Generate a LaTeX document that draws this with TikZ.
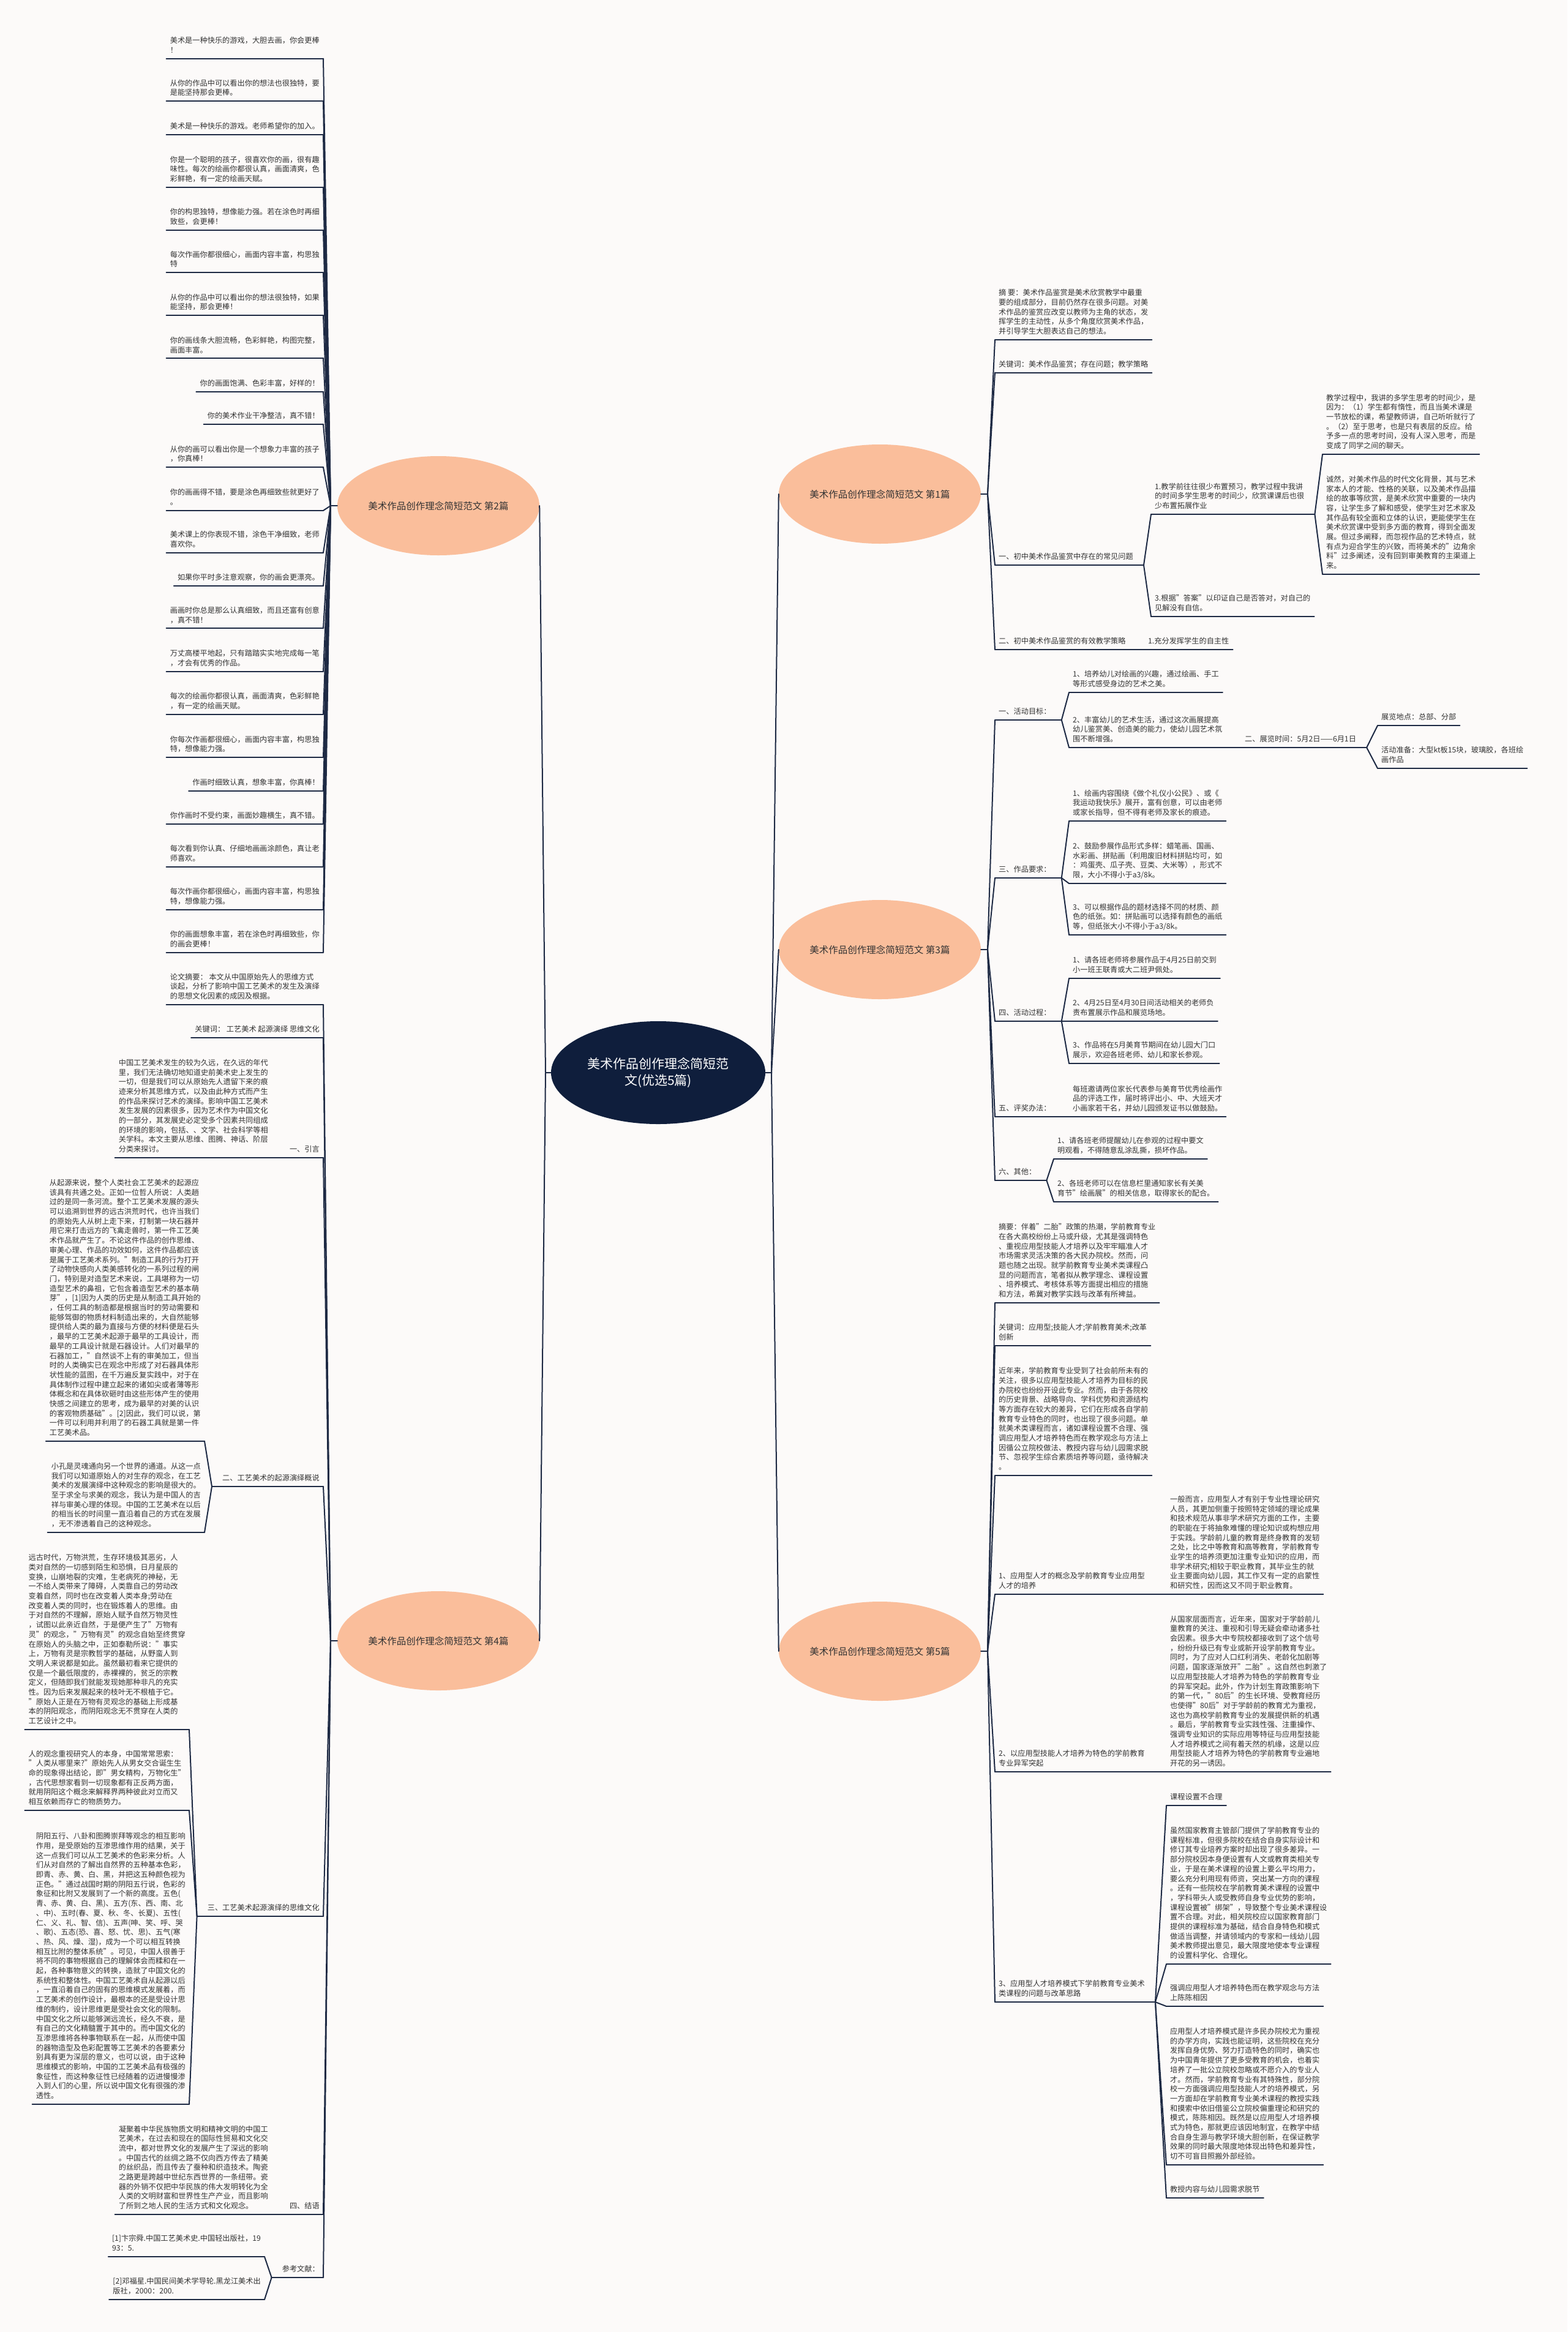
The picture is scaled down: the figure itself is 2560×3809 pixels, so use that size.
\documentclass[tikz,border=0pt]{standalone}
\usepackage{fontspec}
\setmainfont{Noto Sans CJK SC}
\usetikzlibrary{shapes.geometric}
\definecolor{bgc}{HTML}{FCFAF9}
\definecolor{lnc}{HTML}{1E2A44}
\definecolor{navy}{HTML}{0F1E3C}
\definecolor{orn}{HTML}{FABE9B}
\definecolor{txt}{HTML}{333333}
\tikzset{
  ln/.style={draw=lnc, line width=2pt, line cap=round},
  leafbase/.style={inner xsep=6pt, inner ysep=8pt, text depth=1.2pt, align=left, font=\fontsize{12.2}{15.7}\selectfont, text=txt},
  leafR/.style={leafbase, anchor=south west},
  leafL/.style={leafbase, anchor=south east},
  brn/.style={ellipse, fill=orn, minimum width=330pt, minimum height=162pt, inner sep=0pt, font=\fontsize{15.5}{18}\selectfont, text=txt},
  rootnode/.style={ellipse, fill=navy, minimum width=350pt, minimum height=168pt, inner sep=0pt, align=center, font=\fontsize{21}{27}\selectfont, text=white},
}
\newcommand\RLeaf[4]{\node[leafR] (#1) at (#2,#3) {#4};\draw[ln] (#1.south west) -- (#1.south east);}
\newcommand\LLeaf[4]{\node[leafL] (#1) at (#2,#3) {#4};\draw[ln] (#1.south west) -- (#1.south east);}
\newcommand\RPar[4]{\node[leafR] (#1) at (#2,#3) {#4};\draw[ln] (#1.south west) -- ([xshift=11pt]#1.south east) coordinate (#1-e);}
\newcommand\LPar[4]{\node[leafL] (#1) at (#2,#3) {#4};\draw[ln] ([xshift=-11pt]#1.south west) coordinate (#1-e) -- (#1.south east);}
\newcommand\RCon[2]{\draw[ln] (#1) -- (#2.south west);}
\newcommand\LCon[2]{\draw[ln] (#1) -- (#2.south east);}
\begin{document}
\begin{tikzpicture}[x=1pt,y=-1pt]
\fill[bgc] (0,0) rectangle (2560,3809);
\useasboundingbox (0,0) rectangle (2560,3809);

% ---------- root and branches ----------
\node[rootnode] (root) at (1075,1752) {美术作品创作理念简短范\\文(优选5篇)};
\node[brn] (o2) at (716,826) {美术作品创作理念简短范文 第2篇};
\node[brn] (o4) at (716,2680) {美术作品创作理念简短范文 第4篇};
\node[brn] (o1) at (1437,807) {美术作品创作理念简短范文 第1篇};
\node[brn] (o3) at (1437,1551) {美术作品创作理念简短范文 第3篇};
\node[brn] (o5) at (1437,2697) {美术作品创作理念简短范文 第5篇};
\coordinate (hl) at (891,1752);
\coordinate (hr) at (1260,1752);
\draw[ln] (root.west) -- (hl) -- (o2.east);
\draw[ln] (hl) -- (o4.east);
\draw[ln] (root.east) -- (hr) -- (o1.west);
\draw[ln] (hr) -- (o3.west);
\draw[ln] (hr) -- (o5.west);
\coordinate (h2) at (540,826);
\coordinate (h4) at (540,2680);
\coordinate (h1) at (1613,807);
\coordinate (h3) at (1613,1551);
\coordinate (h5) at (1613,2697);
\draw[ln] (o2.west) -- (h2);
\draw[ln] (o4.west) -- (h4);
\draw[ln] (o1.east) -- (h1);
\draw[ln] (o3.east) -- (h3);
\draw[ln] (o5.east) -- (h5);

% ---------- branch 2 (left top) ----------
\LLeaf{i1}{528}{95.7}{美术是一种快乐的游戏，大胆去画，你会更棒\\！}
\LLeaf{i2}{528}{165.1}{从你的作品中可以看出你的想法也很独特，要\\是能坚持那会更棒。}
\LLeaf{i3}{528}{219.7}{美术是一种快乐的游戏。老师希望你的加入。}
\LLeaf{i4}{528}{305.8}{你是一个聪明的孩子，很喜欢你的画，很有趣\\味性。每次的绘画你都很认真，画面清爽，色\\彩鲜艳，有一定的绘画天赋。}
\LLeaf{i5}{528}{375.8}{你的构思独特，想像能力强。若在涂色时再细\\致些，会更棒！}
\LLeaf{i6}{528}{445.3}{每次作画你都很细心，画面内容丰富，构思独\\特}
\LLeaf{i7}{528}{515.3}{从你的作品中可以看出你的想法很独特，如果\\能坚持，那会更棒！}
\LLeaf{i8}{528}{585.4}{你的画线条大胆流畅，色彩鲜艳，构图完整，\\画面丰富。}
\LLeaf{i9}{528}{639.9}{你的画面饱满、色彩丰富，好样的！}
\LLeaf{i10}{528}{693.3}{你的美术作业干净整洁，真不错！}
\LLeaf{i11}{528}{763.3}{从你的画可以看出你是一个想象力丰富的孩子\\，你真棒！}
\LLeaf{i12}{528}{833.9}{你的画画得不错，要是涂色再细致些就更好了\\。}
\LLeaf{i13}{528}{902.8}{美术课上的你表现不错，涂色干净细致，老师\\喜欢你。}
\LLeaf{i14}{528}{957.0}{如果你平时多注意观察，你的画会更漂亮。}
\LLeaf{i15}{528}{1026.4}{画画时你总是那么认真细致，而且还富有创意\\，真不错！}
\LLeaf{i16}{528}{1096.5}{万丈高楼平地起，只有踏踏实实地完成每一笔\\，才会有优秀的作品。}
\LLeaf{i17}{528}{1166.5}{每次的绘画你都很认真，画面清爽，色彩鲜艳\\，有一定的绘画天赋。}
\LLeaf{i18}{528}{1237.1}{你每次作画都很细心，画面内容丰富，构思独\\特，想像能力强。}
\LLeaf{i19}{528}{1291.7}{作画时细致认真，想象丰富，你真棒！}
\LLeaf{i20}{528}{1345.6}{你作画时不受约束，画面妙趣横生，真不错。}
\LLeaf{i21}{528}{1415.7}{每次看到你认真、仔细地画画涂颜色，真让老\\师喜欢。}
\LLeaf{i22}{528}{1485.7}{每次作画你都很细心，画面内容丰富，构思独\\特，想像能力强。}
\LLeaf{i23}{528}{1555.7}{你的画面想象丰富，若在涂色时再细致些，你\\的画会更棒！}
\foreach \n in {i1,i2,i3,i4,i5,i6,i7,i8,i9,i10,i11,i12,i13,i14,i15,i16,i17,i18,i19,i20,i21,i22,i23}
  {\LCon{h2}{\n}}

% ---------- branch 4 (left bottom) ----------
\LLeaf{lw}{528}{1641}{论文摘要： 本文从中国原始先人的思维方式\\谈起，分析了影响中国工艺美术的发生及演绎\\的思想文化因素的成因及根据。}
\LLeaf{kw}{528}{1695}{关键词： 工艺美术 起源演绎 思维文化}
\LPar{yy}{528}{1891}{一、引言}
\LLeaf{yyc}{444}{1891}{中国工艺美术发生的较为久远，在久远的年代\\里，我们无法确切地知道史前美术史上发生的\\一切，但是我们可以从原始先人遗留下来的痕\\迹来分析其思维方式，以及由此种方式而产生\\的作品来探讨艺术的演绎。影响中国工艺美术\\发生发展的因素很多，因为艺术作为中国文化\\的一部分，其发展史必定受多个因素共同组成\\的环境的影响，包括、、文学、社会科学等相\\关学科。本文主要从思维、图腾、神话、阶层\\分类来探讨。}
\LPar{sa}{528}{2428}{二、工艺美术的起源演绎概说}
\LLeaf{saa}{334}{2354}{从起源来说，整个人类社会工艺美术的起源应\\该具有共通之处。正如一位哲人所说：人类趟\\过的是同一条河流。整个工艺美术发展的源头\\可以追溯到世界的远古洪荒时代，也许当我们\\的原始先人从树上走下来，打制第一块石器并\\用它来打击远方的飞禽走兽时，第一件工艺美\\术作品就产生了。不论这件作品的创作思维、\\审美心理、作品的功效如何，这件作品都应该\\是属于工艺美术系列。"制造工具的行为打开\\了动物快感向人类美感转化的一系列过程的闸\\门，特别是对造型艺术来说，工具堪称为一切\\造型艺术的鼻祖，它包含着造型艺术的基本萌\\芽"，[1]因为人类的历史是从制造工具开始的\\，任何工具的制造都是根据当时的劳动需要和\\能够驾御的物质材料制造出来的，大自然能够\\提供给人类的最为直接与方便的材料便是石头\\，最早的工艺美术起源于最早的工具设计，而\\最早的工具设计就是石器设计。人们对最早的\\石器加工，"自然谈不上有的审美加工，但当\\时的人类确实已在观念中形成了对石器具体形\\状性能的蓝图，在千万遍反复实践中，对于在\\具体制作过程中建立起来的诸如尖或者薄等形\\体概念和在具体砍砸时由这些形体产生的使用\\快感之间建立的思考，成为最早的对美的认识\\的客观物质基础"。[2]因此，我们可以说，第\\一件可以利用并利用了的石器工具就是第一件\\工艺美术品。}
\LLeaf{sab}{334}{2503}{小孔是灵魂通向另一个世界的通道。从这一点\\我们可以知道原始人的对生存的观念，在工艺\\美术的发展演绎中这种观念的影响是很大的。\\至于求全与求美的观念，我认为是中国人的吉\\祥与审美心理的体现。中国的工艺美术在以后\\的相当长的时间里一直沿着自己的方式在发展\\，无不渗透着自己的这种观念。}
\LPar{sb}{528}{3130}{三、工艺美术起源演绎的思维文化}
\LLeaf{sba}{309}{2825}{远古时代，万物洪荒，生存环境极其恶劣，人\\类对自然的一切感到陌生和恐惧，日月星辰的\\变换，山崩地裂的灾难，生老病死的神秘，无\\一不给人类带来了障碍，人类靠自己的劳动改\\变着自然，同时也在改变着人类本身;劳动在\\改变着人类的同时，也在锻炼着人的思维。由\\于对自然的不理解，原始人赋予自然万物灵性\\，试图以此亲近自然，于是便产生了"万物有\\灵"的观念，"万物有灵"的观念自始至终贯穿\\在原始人的头脑之中，正如泰勒所说："事实\\上，万物有灵是宗教哲学的基础，从野蛮人到\\文明人来说都是如此。虽然最初看来它提供的\\仅是一个最低限度的，赤裸裸的，贫乏的宗教\\定义，但随即我们就能发现她那种非凡的充实\\性。因为后来发展起来的枝叶无不根植于它。\\"原始人正是在万物有灵观念的基础上形成基\\本的阴阳观念，而阴阳观念无不贯穿在人类的\\工艺设计之中。}
\LLeaf{sbb}{309}{2957}{人的观念重视研究人的本身，中国常常思索：\\"人类从哪里来?"原始先人从男女交合诞生生\\命的现象得出结论，即"男女精构，万物化生"\\，古代思想家看到一切现象都有正反两方面，\\就用阴阳这个概念来解释界两种彼此对立而又\\相互依赖而存亡的物质势力。}
\LLeaf{sbc}{309}{3437}{阴阳五行、八卦和图腾崇拜等观念的相互影响\\作用，是受原始的互渗思维作用的结果，关于\\这一点我们可以从工艺美术的色彩来分析。人\\们从对自然的了解出自然界的五种基本色彩，\\即青、赤、黄、白、黑，并把这五种颜色视为\\正色。"通过战国时期的阴阳五行说，色彩的\\象征和比附又发展到了一个新的高度。五色(\\青、赤、黄、白、黑)、五方(东、西、南、北\\、中)、五时(春、夏、秋、冬、长夏)、五性(\\仁、义、礼、智、信)、五声(呻、笑、呼、哭\\、歌)、五态(恐、喜、怒、忧、思)、五气(寒\\、热、风、燥、湿)，成为一个可以相互转换\\相互比附的整体系统"。可见，中国人很善于\\将不同的事物根据自己的理解体会而糅和在一\\起，各种事物意义的转换，造就了中国文化的\\系统性和整体性。中国工艺美术自从起源以后\\，一直沿着自己的固有的思维模式发展着，而\\工艺美术的创作设计，最根本的还是受设计思\\维的制约，设计思维更是受社会文化的限制。\\中国文化之所以能够渊远流长，经久不衰，是\\有自己的文化精髓置于其中的。而中国文化的\\互渗思维将各种事物联系在一起，从而使中国\\的器物造型及色彩配置等工艺美术的各要素分\\别具有更为深层的意义，也可以说，由于这种\\思维模式的影响，中国的工艺美术品有极强的\\象征性，而这种象征性已经随着的迈进慢慢渗\\入到人们的心里，所以说中国文化有很强的渗\\透性。}
\LPar{sc}{528}{3617}{四、结语}
\LLeaf{sca}{444}{3617}{凝聚着中华民族物质文明和精神文明的中国工\\艺美术，在过去和现在的国际性贸易和文化交\\流中，都对世界文化的发展产生了深远的影响\\。中国古代的丝绸之路不仅向西方传去了精美\\的丝织品，而且传去了蚕种和织造技术。陶瓷\\之路更是跨越中世纪东西世界的一条纽带。瓷\\器的外销不仅把中华民族的伟大发明转化为全\\人类的文明财富和世界性生产产业，而且影响\\了所到之地人民的生活方式和文化观念。}
\LPar{rf}{528}{3720}{参考文献：}
\LLeaf{rfa}{432}{3686}{[1]卞宗舜.中国工艺美术史.中国轻出版社，19\\93：5.}
\LLeaf{rfb}{432}{3756}{[2]邓福星.中国民间美术学导轮.黑龙江美术出\\版社，2000：200.}
\foreach \n in {lw,kw,yy,sa,sb,sc,rf} {\LCon{h4}{\n}}
\LCon{yy-e}{yyc}
\LCon{sa-e}{saa}
\LCon{sa-e}{sab}
\LCon{sb-e}{sba}
\LCon{sb-e}{sbb}
\LCon{sb-e}{sbc}
\LCon{sc-e}{sca}
\LCon{rf-e}{rfa}
\LCon{rf-e}{rfb}

% ---------- branch 1 (right top) ----------
\RLeaf{ab}{1625}{555}{摘 要：美术作品鉴赏是美术欣赏教学中最重\\要的组成部分，目前仍然存在很多问题。对美\\术作品的鉴赏应改变以教师为主角的状态，发\\挥学生的主动性，从多个角度欣赏美术作品，\\并引导学生大胆表达自己的想法。}
\RLeaf{ak}{1625}{608.5}{关键词：美术作品鉴赏；存在问题；教学策略}
\RPar{ba}{1625}{923}{一、初中美术作品鉴赏中存在的常见问题}
\RPar{bb}{1880}{840}{1.教学前往往很少布置预习，教学过程中我讲\\的时间多学生思考的时间少，欣赏课课后也很\\少布置拓展作业}
\RLeaf{bba}{2160}{742}{教学过程中，我讲的多学生思考的时间少，是\\因为：（1）学生都有惰性，而且当美术课是\\一节放松的课，希望教师讲，自己听听就行了\\。（2）至于思考，也是只有表层的反应。给\\予多一点的思考时间，没有人深入思考，而是\\变成了同学之间的聊天。}
\RLeaf{bbb}{2160}{938}{诚然，对美术作品的时代文化背景，其与艺术\\家本人的才能、性格的关联，以及美术作品描\\绘的故事等欣赏，是美术欣赏中重要的一块内\\容，让学生多了解和感受，使学生对艺术家及\\其作品有较全面和立体的认识，更能使学生在\\美术欣赏课中受到多方面的教育，得到全面发\\展。但过多阐释，而忽视作品的艺术特点，就\\有点为迎合学生的兴致，而将美术的"边角余\\料"过多阐述，没有回到审美教育的主渠道上\\来。}
\RLeaf{bc}{1880}{1007}{3.根据"答案"以印证自己是否答对，对自己的\\见解没有自信。}
\RPar{ca}{1625}{1061}{二、初中美术作品鉴赏的有效教学策略}
\RLeaf{caa}{1869}{1061}{1.充分发挥学生的自主性}
\foreach \n in {ab,ak,ba,ca} {\RCon{h1}{\n}}
\RCon{ba-e}{bb}
\RCon{ba-e}{bc}
\RCon{bb-e}{bba}
\RCon{bb-e}{bbb}
\RCon{ca-e}{caa}

% ---------- branch 3 (right middle) ----------
\RPar{ga}{1625}{1176}{一、活动目标：}
\RLeaf{gaa}{1746}{1131}{1、培养幼儿对绘画的兴趣，通过绘画、手工\\等形式感受身边的艺术之美。}
\RPar{gab}{1746}{1221}{2、丰富幼儿的艺术生活，通过这次画展提高\\幼儿鉴赏美、创造美的能力，使幼儿园艺术氛\\围不断增强。}
\RPar{gb}{2027}{1221}{二、展览时间：5月2日——6月1日}
\RLeaf{gba}{2250}{1185}{展览地点：总部、分部}
\RLeaf{gbb}{2250}{1255}{活动准备：大型kt板15块，玻璃胶，各班绘\\画作品}
\RPar{gc}{1625}{1434}{三、作品要求：}
\RLeaf{gca}{1746}{1341}{1、绘画内容围绕《做个礼仪小公民》、或《\\我运动我快乐》展开，富有创意，可以由老师\\或家长指导，但不得有老师及家长的痕迹。}
\RLeaf{gcb}{1746}{1443}{2、鼓励参展作品形式多样：蜡笔画、国画、\\水彩画、拼贴画（利用废旧材料拼贴均可，如\\：鸡蛋壳、瓜子壳、豆类、大米等），形式不\\限，大小不得小于a3/8k。}
\RLeaf{gcc}{1746}{1527}{3、可以根据作品的题材选择不同的材质、颜\\色的纸张。如：拼贴画可以选择有颜色的画纸\\等，但纸张大小不得小于a3/8k。}
\RPar{gd}{1625}{1668}{四、活动过程：}
\RLeaf{gda}{1746}{1598}{1、请各班老师将参展作品于4月25日前交到\\小一班王联青或大二班尹佩处。}
\RLeaf{gdb}{1746}{1668}{2、4月25日至4月30日间活动相关的老师负\\责布置展示作品和展览场地。}
\RLeaf{gdc}{1746}{1737}{3、作品将在5月美育节期间在幼儿园大门口\\展示，欢迎各班老师、幼儿和家长参观。}
\RPar{ge}{1625}{1824}{五、评奖办法：}
\RLeaf{gea}{1746}{1824}{每班邀请两位家长代表参与美育节优秀绘画作\\品的评选工作，届时将评出小、中、大班天才\\小画家若干名，并幼儿园颁发证书以做鼓励。}
\RPar{gf}{1625}{1928}{六、其他：}
\RLeaf{gfa}{1721}{1893}{1、请各班老师提醒幼儿在参观的过程中要文\\明观看，不得随意乱涂乱撕，损坏作品。}
\RLeaf{gfb}{1721}{1963}{2、各班老师可以在信息栏里通知家长有关美\\育节"绘画展"的相关信息，取得家长的配合。}
\foreach \n in {ga,gc,gd,ge,gf} {\RCon{h3}{\n}}
\RCon{ga-e}{gaa}
\RCon{ga-e}{gab}
\RCon{gab-e}{gb}
\RCon{gb-e}{gba}
\RCon{gb-e}{gbb}
\RCon{gc-e}{gca}
\RCon{gc-e}{gcb}
\RCon{gc-e}{gcc}
\RCon{gd-e}{gda}
\RCon{gd-e}{gdb}
\RCon{gd-e}{gdc}
\RCon{ge-e}{gea}
\RCon{gf-e}{gfa}
\RCon{gf-e}{gfb}

% ---------- branch 5 (right bottom) ----------
\RLeaf{ka}{1625}{2128}{摘要：伴着"二胎"政策的热潮，学前教育专业\\在各大高校纷纷上马或升级，尤其是强调特色\\、重视应用型技能人才培养以及牢牢瞄准人才\\市场需求灵活决策的各大民办院校。然而，问\\题也随之出现。就学前教育专业美术类课程凸\\显的问题而言，笔者拟从教学理念、课程设置\\、培养模式、考核体系等方面提出相应的措施\\和方法，希冀对教学实践与改革有所裨益。}
\RLeaf{kb}{1625}{2198}{关键词：应用型;技能人才;学前教育美术;改革\\创新}
\RLeaf{kc}{1625}{2410}{近年来，学前教育专业受到了社会前所未有的\\关注，很多以应用型技能人才培养为目标的民\\办院校也纷纷开设此专业。然而，由于各院校\\的历史背景、战略导向、学科优势和资源结构\\等方面存在较大的差异，它们在形成各自学前\\教育专业特色的同时，也出现了很多问题。单\\就美术类课程而言，诸如课程设置不合理、强\\调应用型人才培养特色而在教学观念与方法上\\因循公立院校做法、教授内容与幼儿园需求脱\\节、忽视学生综合素质培养等问题，亟待解决\\。}
\RPar{kd}{1625}{2604}{1、应用型人才的概念及学前教育专业应用型\\人才的培养}
\RLeaf{kda}{1905}{2604}{一般而言，应用型人才有别于专业性理论研究\\人员，其更加侧重于按照特定领域的理论成果\\和技术规范从事非学术研究方面的工作，主要\\的职能在于将抽象难懂的理论知识或构想应用\\于实践。学龄前儿童的教育是终身教育的发轫\\之处，比之中等教育和高等教育，学前教育专\\业学生的培养须更加注重专业知识的应用，而\\非学术研究;相较于职业教育，其毕业生的就\\业主要面向幼儿园，其工作又有一定的启蒙性\\和研究性，因而这又不同于职业教育。}
\RPar{ke}{1625}{2894}{2、以应用型技能人才培养为特色的学前教育\\专业异军突起}
\RLeaf{kea}{1905}{2894}{从国家层面而言，近年来，国家对于学龄前儿\\童教育的关注、重视和引导无疑会牵动诸多社\\会因素。很多大中专院校都接收到了这个信号\\，纷纷升级已有专业或新开设学前教育专业。\\同时，为了应对人口红利消失、老龄化加剧等\\问题，国家逐渐放开"二胎"。这自然也刺激了\\以应用型技能人才培养为特色的学前教育专业\\的异军突起。此外，作为计划生育政策影响下\\的第一代，"80后"的生长环境、受教育经历\\也使得"80后"对于学龄前的教育尤为重视，\\这也为高校学前教育专业的发展提供新的机遇\\。最后，学前教育专业实践性强、注重操作、\\强调专业知识的实际应用等特征与应用型技能\\人才培养模式之间有着天然的机缘，这是以应\\用型技能人才培养为特色的学前教育专业遍地\\开花的另一诱因。}
\RPar{kf}{1625}{3270}{3、应用型人才培养模式下学前教育专业美术\\类课程的问题与改革思路}
\RLeaf{kfa}{1905}{2949}{课程设置不合理}
\RLeaf{kfb}{1905}{3208}{虽然国家教育主管部门提供了学前教育专业的\\课程标准，但很多院校在结合自身实际设计和\\修订其专业培养方案时却出现了很多差异。一\\部分院校因本身便设置有人文或教育类相关专\\业，于是在美术课程的设置上要么平均用力，\\要么充分利用现有师资，突出某一方向的课程\\。还有一些院校在学前教育美术课程的设置中\\，学科带头人或受教师自身专业优势的影响，\\课程设置被"绑架"，导致整个专业美术课程设\\置不合理。对此，相关院校应以国家教育部门\\提供的课程标准为基础，结合自身特色和模式\\做适当调整，并请领域内的专家和一线幼儿园\\美术教师提出意见，最大限度地使本专业课程\\的设置科学化、合理化。}
\RLeaf{kfc}{1905}{3277}{强调应用型人才培养特色而在教学观念与方法\\上陈陈相因}
\RLeaf{kfd}{1905}{3536}{应用型人才培养模式是许多民办院校尤为重视\\的办学方向，实践也能证明，这些院校在充分\\发挥自身优势、努力打造特色的同时，确实也\\为中国青年提供了更多受教育的机会，也着实\\培养了一批公立院校忽略或不愿介入的专业人\\才。然而，学前教育专业有其特殊性，部分院\\校一方面强调应用型技能人才的培养模式，另\\一方面却在学前教育专业美术课程的教授实践\\和摸索中依旧借鉴公立院校偏重理论和研究的\\模式，陈陈相因。既然是以应用型人才培养模\\式为特色，那就更应该因地制宜，在教学中结\\合自身生源与教学环境大胆创新，在保证教学\\效果的同时最大限度地体现出特色和差异性，\\切不可盲目照搬外部经验。}
\RLeaf{kfe}{1905}{3590}{教授内容与幼儿园需求脱节}
\foreach \n in {ka,kb,kc,kd,ke,kf} {\RCon{h5}{\n}}
\RCon{kd-e}{kda}
\RCon{ke-e}{kea}
\foreach \n in {kfa,kfb,kfc,kfd,kfe} {\RCon{kf-e}{\n}}
\end{tikzpicture}
\end{document}
